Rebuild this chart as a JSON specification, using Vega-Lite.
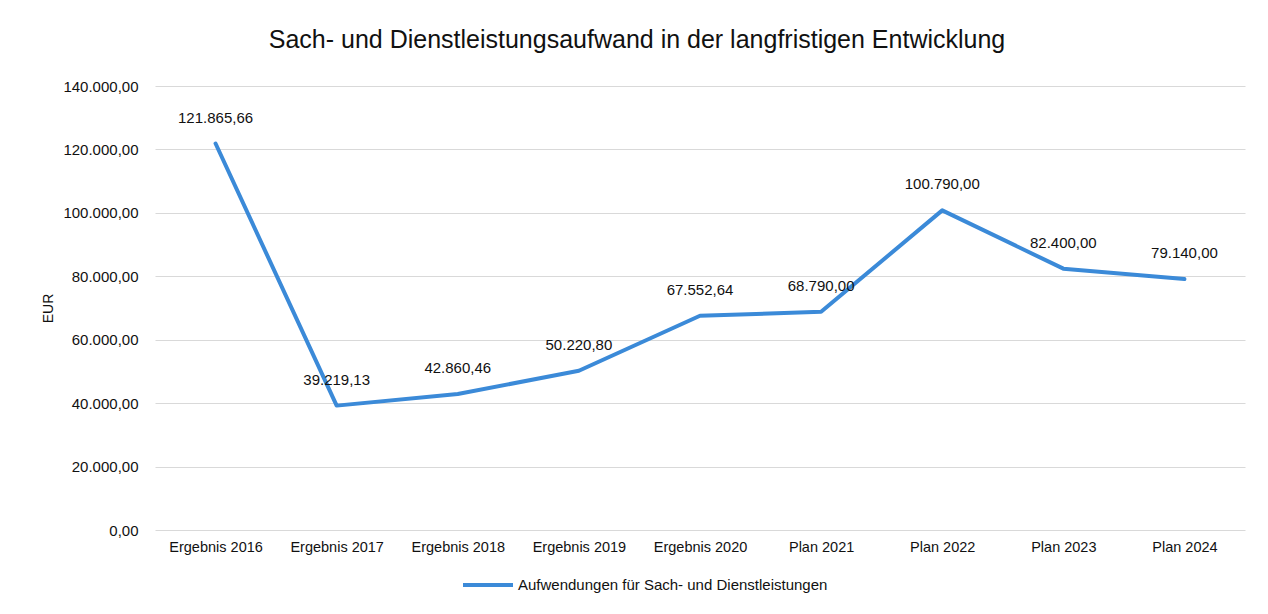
{
  "$schema": "https://vega.github.io/schema/vega-lite/v6.json",
  "width": 1090,
  "height": 444,
  "autosize": {"type": "none"},
  "padding": {"left": 155, "top": 86, "right": 23, "bottom": 84},
  "background": "white",
  "title": {
    "text": "Sach- und Dienstleistungsaufwand in der langfristigen Entwicklung",
    "font": "Liberation Sans",
    "fontSize": 25,
    "fontWeight": "normal",
    "color": "#111111",
    "anchor": "middle",
    "dx": -63,
    "offset": 26
  },
  "config": {
    "locale": {
      "number": {"decimal": ",", "thousands": ".", "grouping": [3], "currency": ["", " €"]}
    },
    "font": "Liberation Sans",
    "view": {"stroke": null}
  },
  "data": {
    "values": [
      {"Jahr": "Ergebnis 2016", "Wert": 121865.66, "Serie": "Aufwendungen für Sach- und Dienstleistungen"},
      {"Jahr": "Ergebnis 2017", "Wert": 39219.13, "Serie": "Aufwendungen für Sach- und Dienstleistungen"},
      {"Jahr": "Ergebnis 2018", "Wert": 42860.46, "Serie": "Aufwendungen für Sach- und Dienstleistungen"},
      {"Jahr": "Ergebnis 2019", "Wert": 50220.80, "Serie": "Aufwendungen für Sach- und Dienstleistungen"},
      {"Jahr": "Ergebnis 2020", "Wert": 67552.64, "Serie": "Aufwendungen für Sach- und Dienstleistungen"},
      {"Jahr": "Plan 2021", "Wert": 68790.00, "Serie": "Aufwendungen für Sach- und Dienstleistungen"},
      {"Jahr": "Plan 2022", "Wert": 100790.00, "Serie": "Aufwendungen für Sach- und Dienstleistungen"},
      {"Jahr": "Plan 2023", "Wert": 82400.00, "Serie": "Aufwendungen für Sach- und Dienstleistungen"},
      {"Jahr": "Plan 2024", "Wert": 79140.00, "Serie": "Aufwendungen für Sach- und Dienstleistungen"}
    ]
  },
  "encoding": {
    "x": {
      "field": "Jahr",
      "type": "ordinal",
      "sort": null,
      "scale": {"type": "point", "padding": 0.5},
      "axis": {
        "title": null,
        "labelAngle": 0,
        "labelFont": "Liberation Sans",
        "labelFontSize": 14.5,
        "labelColor": "#111111",
        "labelPadding": 10,
        "ticks": false,
        "domain": false,
        "grid": false
      }
    },
    "y": {
      "field": "Wert",
      "type": "quantitative",
      "scale": {"domain": [0, 140000], "nice": false},
      "axis": {
        "title": "EUR",
        "titleFont": "Liberation Sans",
        "titleFontSize": 14,
        "titleFontWeight": "normal",
        "titleColor": "#111111",
        "titleX": -107,
        "titleY": 222,
        "titleAlign": "center",
        "titleBaseline": "middle",
        "values": [0, 20000, 40000, 60000, 80000, 100000, 120000, 140000],
        "format": ",.2f",
        "labelFont": "Liberation Sans",
        "labelFontSize": 15,
        "labelColor": "#111111",
        "labelPadding": 17,
        "ticks": false,
        "domain": false,
        "grid": true,
        "gridColor": "#d9d9d9",
        "gridWidth": 1.2
      }
    }
  },
  "layer": [
    {
      "mark": {"type": "line", "strokeWidth": 4, "strokeCap": "round", "strokeJoin": "round"},
      "encoding": {
        "color": {
          "field": "Serie",
          "type": "nominal",
          "scale": {"range": ["#3b8ad8"]},
          "legend": {
            "title": null,
            "orient": "none",
            "legendX": 306,
            "legendY": 472,
            "symbolType": "stroke",
            "symbolSize": 2500,
            "symbolStrokeWidth": 4,
            "labelFont": "Liberation Sans",
            "labelFontSize": 15,
            "labelLimit": 500,
            "labelColor": "#111111",
            "labelOffset": 3,
            "symbolOffset": 0,
            "padding": 0
          }
        }
      }
    },
    {
      "mark": {"type": "text", "dy": -26, "font": "Liberation Sans", "fontSize": 15, "color": "#111111"},
      "encoding": {
        "text": {"field": "Wert", "type": "quantitative", "format": ",.2f"}
      }
    }
  ]
}
